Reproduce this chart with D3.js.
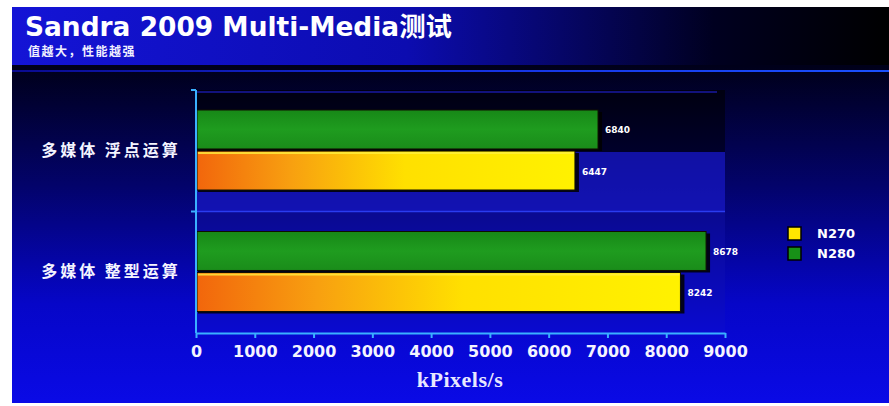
<!DOCTYPE html>
<html><head><meta charset="utf-8">
<script src="https://cdn.jsdelivr.net/npm/d3@7/dist/d3.min.js"></script>
<style>html,body{margin:0;padding:0;background:#fff;}svg{display:block;}</style>
</head><body>
<script>
const categories = ["多媒体 浮点运算", "多媒体 整型运算"];
const seriesKeys = ["N280", "N270"];          // drawing order within a category (top → bottom)
const legendKeys = ["N270", "N280"];
const n280 = [6840, 8678];
const n270 = [6447, 8242];
const xTicks = [0, 1000, 2000, 3000, 4000, 5000, 6000, 7000, 8000, 9000];
const titleText = "Sandra 2009 Multi-Media测试";
const subtitleText = "值越大，性能越强";
const xTitle = "kPixels/s";

const W = 889, H = 406;
const svg = d3.select("body").append("svg").attr("width", W).attr("height", H);
const defs = svg.append("defs");

function lin(id, x1, y1, x2, y2, stops) {
  const g = defs.append("linearGradient").attr("id", id)
    .attr("x1", x1).attr("y1", y1).attr("x2", x2).attr("y2", y2);
  stops.forEach(s => g.append("stop").attr("offset", s[0]).attr("stop-color", s[1]));
}
lin("bodyV", 0, 0, 0, 1, [[0, "#000008"], [0.15, "#00001a"], [0.45, "#03036a"], [0.75, "#0606c8"], [1, "#0a0ae6"]]);
lin("headH", 0, 0, 1, 0, [[0, "#1414d6"], [0.45, "#0c0cb0"], [0.8, "#000020"], [1, "#000000"]]);
lin("lineH", 0, 0, 1, 0, [[0, "#0a0a90"], [0.5, "#1530e0"], [1, "#1a50ff"]]);
lin("plotV", 0, 0, 0, 1, [[0, "#000010"], [0.25, "#00002a"], [0.5, "#0a0a90"], [1, "#0a0ad0"]]);
lin("yellowG", 0, 0, 1, 0, [[0, "#f2660c"], [0.25, "#f8a010"], [0.55, "#ffe000"], [1, "#fff200"]]);
lin("greenG", 0, 0, 0, 1, [[0, "#178817"], [0.5, "#1f9c1f"], [1, "#1a8c1a"]]);

// panel
svg.append("rect").attr("x", 12).attr("y", 7).attr("width", W - 12).attr("height", 396).attr("fill", "url(#bodyV)");
svg.append("rect").attr("x", 12).attr("y", 7).attr("width", W - 12).attr("height", 58).attr("fill", "url(#headH)");
svg.append("rect").attr("x", 12).attr("y", 70).attr("width", W - 12).attr("height", 2).attr("fill", "url(#lineH)");

// title
svg.append("text").attr("x", 25).attr("y", 36).attr("fill", "#fff")
  .attr("font-family", "'DejaVu Sans', Verdana, 'Noto Sans CJK SC', sans-serif")
  .attr("font-weight", "bold").attr("font-size", 26).attr("textLength", 427).attr("lengthAdjust", "spacingAndGlyphs").text(titleText);
svg.append("text").attr("x", 28).attr("y", 56).attr("fill", "#f0f0ff")
  .attr("font-family", "'Noto Sans CJK SC', sans-serif")
  .attr("font-weight", "bold").attr("font-size", 12).attr("letter-spacing", 1.5).text(subtitleText);

// scales
const x = d3.scaleLinear().domain([0, 9000]).range([196, 725]);
const y = d3.scaleBand().domain(categories).range([90, 333]).paddingInner(0).paddingOuter(0);
const ySub = d3.scaleBand().domain(seriesKeys).range([20, 100]).paddingInner(0.05).paddingOuter(0);
const color = { N270: "url(#yellowG)", N280: "url(#greenG)" };
const legendColor = { N270: "#ffe600", N280: "#179017" };

// plot background
svg.append("rect").attr("x", x(0)).attr("y", 90).attr("width", x(9000) - x(0)).attr("height", 243).attr("fill", "url(#plotV)");
svg.append("rect").attr("x", x(0)).attr("y", 152).attr("width", x(9000) - x(0)).attr("height", 60).attr("fill", "#1414b8").attr("opacity", 0.85);
svg.append("line").attr("x1", x(0)).attr("x2", x(9000) - 8).attr("y1", 92).attr("y2", 92).attr("stroke", "#1818a0").attr("stroke-width", 1.5);
svg.append("line").attr("x1", x(0)).attr("x2", x(9000)).attr("y1", y(categories[1])).attr("y2", y(categories[1])).attr("stroke", "#2a3cf0").attr("stroke-width", 1.5);

// bars
const rows = [];
categories.forEach((c, i) => {
  rows.push({ cat: c, key: "N280", value: n280[i] });
  rows.push({ cat: c, key: "N270", value: n270[i] });
});
const g = svg.append("g");
g.selectAll("rect.shadow").data(rows).join("rect").attr("class", "shadow")
  .attr("x", x(0) + 2).attr("y", d => y(d.cat) + ySub(d.key) + 2)
  .attr("width", d => x(d.value) - x(0) + 2).attr("height", ySub.bandwidth())
  .attr("fill", "#000").attr("opacity", 0.85);
g.selectAll("rect.bar").data(rows).join("rect").attr("class", "bar")
  .attr("x", x(0) + 1).attr("y", d => y(d.cat) + ySub(d.key))
  .attr("width", d => x(d.value) - x(0) - 1).attr("height", ySub.bandwidth())
  .attr("fill", d => color[d.key]).attr("stroke", "#101000").attr("stroke-width", 1);
g.selectAll("rect.hl").data(rows.filter(d => d.key === "N270")).join("rect").attr("class", "hl")
  .attr("x", x(0) + 2).attr("y", d => y(d.cat) + ySub(d.key) + 1)
  .attr("width", d => x(d.value) - x(0) - 3).attr("height", 2).attr("fill", "#fff040").attr("opacity", 0.8);
g.selectAll("text.val").data(rows).join("text").attr("class", "val")
  .attr("x", d => x(d.value) + 7).attr("y", d => y(d.cat) + ySub(d.key) + ySub.bandwidth() / 2 + 4)
  .attr("fill", "#fff").attr("font-family", "'DejaVu Sans', Verdana, sans-serif")
  .attr("font-weight", "bold").attr("font-size", 9).text(d => d.value);

// axes
const axisColor = "#3ab0ff";
const xAxis = svg.append("g").attr("transform", "translate(0,333)")
  .call(d3.axisBottom(x).tickValues(xTicks).tickFormat(d3.format("d")).tickSize(5).tickSizeOuter(0).tickPadding(8));
xAxis.select(".domain").attr("stroke", axisColor).attr("stroke-width", 2);
xAxis.selectAll(".tick line").attr("stroke", axisColor).attr("stroke-width", 2);
xAxis.selectAll(".tick text").attr("fill", "#f4f4ff").attr("font-size", 16).attr("font-weight", "bold")
  .attr("font-family", "'DejaVu Sans', Verdana, sans-serif");

const yAxis = svg.append("g").attr("transform", `translate(${x(0)},0)`)
  .call(d3.axisLeft(y).tickSize(0).tickPadding(20));
yAxis.select(".domain").remove();
svg.append("line").attr("x1", x(0)).attr("x2", x(0)).attr("y1", 90).attr("y2", 333).attr("stroke", axisColor).attr("stroke-width", 2);
[90, y(categories[1])].forEach(v => svg.append("line").attr("x1", x(0) - 5).attr("x2", x(0)).attr("y1", v).attr("y2", v).attr("stroke", axisColor).attr("stroke-width", 2));
yAxis.selectAll(".tick text").attr("fill", "#f4f4ff").attr("font-size", 16).attr("font-weight", "bold")
  .attr("letter-spacing", 3)
  .attr("text-anchor", "middle").attr("x", 111 - x(0))
  .attr("font-family", "'Noto Sans CJK SC', sans-serif");

svg.append("text").attr("x", 460).attr("y", 387).attr("text-anchor", "middle")
  .attr("fill", "#e8e8ff").attr("font-family", "'Liberation Serif', 'Times New Roman', serif")
  .attr("font-weight", "bold").attr("font-size", 22).attr("letter-spacing", 0.5).text(xTitle);

// legend
const leg = svg.append("g").attr("transform", "translate(788,227)");
legendKeys.forEach((k, i) => {
  const r = leg.append("g").attr("transform", `translate(0,${i * 20})`);
  r.append("rect").attr("width", 13).attr("height", 13).attr("fill", legendColor[k]).attr("stroke", "#000").attr("stroke-width", 1.5);
  r.append("text").attr("x", 29).attr("y", 11).attr("fill", "#fff")
    .attr("font-family", "'DejaVu Sans', Verdana, sans-serif").attr("font-weight", "bold").attr("font-size", 13).text(k);
});
</script>
</body></html>
